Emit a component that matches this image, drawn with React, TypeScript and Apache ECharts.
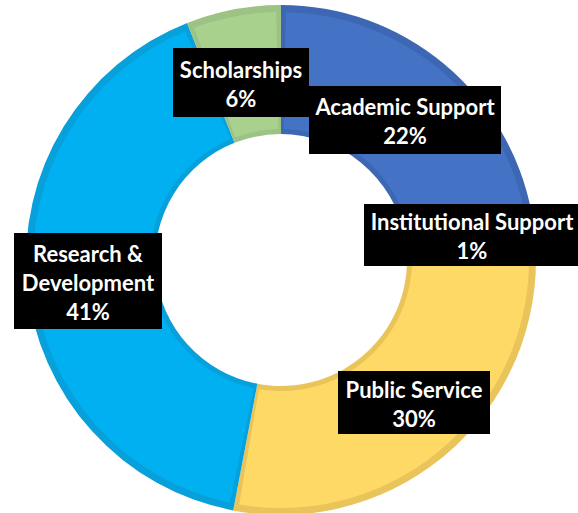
import React, { useEffect, useRef } from "react";
import * as echarts from "echarts";

const categories = [
  "Academic Support",
  "Institutional Support",
  "Public Service",
  "Research & Development",
  "Scholarships",
];
const values = [22, 1, 30, 41, 6];

const fillColors = ["#4472C4", "#A5A5A5", "#FFD966", "#00B0F0", "#A9D18E"];
const bevelColors = ["#3D66B3", "#969696", "#E8C45A", "#07A0DA", "#9CC383"];

// label boxes: [left, top, width, height] in px
const labelBoxes: number[][] = [
  [309, 86, 192, 68],
  [364, 204, 216, 62],
  [338, 371, 152, 63],
  [14, 233, 148, 96],
  [173, 48, 136, 69],
];

export default function App() {
  const ref = useRef<HTMLDivElement>(null);
  useEffect(() => {
    if (!ref.current) return;
    const chart = echarts.init(ref.current, undefined, { renderer: "svg" });
    const center = [281, 260];
    const total = values.reduce((a, b) => a + b, 0);
    const labelGraphics = categories.map((c, i) => {
      const [x, y, w, h] = labelBoxes[i];
      const txt =
        c.replace(" & ", " &\n") +
        "\n" +
        Math.round((values[i] / total) * 100) +
        "%";
      return {
        type: "group",
        children: [
          {
            type: "rect",
            shape: { x, y, width: w, height: h },
            style: { fill: "#000000" },
            z: 10,
          },
          {
            type: "text",
            x: x + w / 2,
            y: y + h / 2 + 1,
            z: 11,
            style: {
              text: txt,
              fill: "#ffffff",
              font: "bold 22px Lato",
              lineHeight: 29,
              align: "center",
              verticalAlign: "middle",
              textAlign: "center",
              textVerticalAlign: "middle",
            },
          },
        ],
      };
    });
    chart.setOption({
      animation: false,
      backgroundColor: "#ffffff",
      series: [
        {
          type: "pie",
          center,
          radius: [126, 255],
          startAngle: 90,
          clockwise: true,
          silent: true,
          label: { show: false },
          labelLine: { show: false },
          data: categories.map((c, i) => ({
            name: c,
            value: values[i],
            itemStyle: { color: bevelColors[i] },
          })),
        },
        {
          type: "pie",
          center,
          radius: [131, 248],
          startAngle: 90,
          clockwise: true,
          padAngle: 2.2,
          silent: true,
          label: { show: false },
          labelLine: { show: false },
          data: categories.map((c, i) => ({
            name: c,
            value: values[i],
            itemStyle: { color: fillColors[i] },
          })),
        },
      ],
      graphic: labelGraphics,
    });
    return () => chart.dispose();
  }, []);
  return (
    <div
      ref={ref}
      style={{ position: "fixed", left: 0, top: 0, width: 578, height: 513 }}
    />
  );
}
